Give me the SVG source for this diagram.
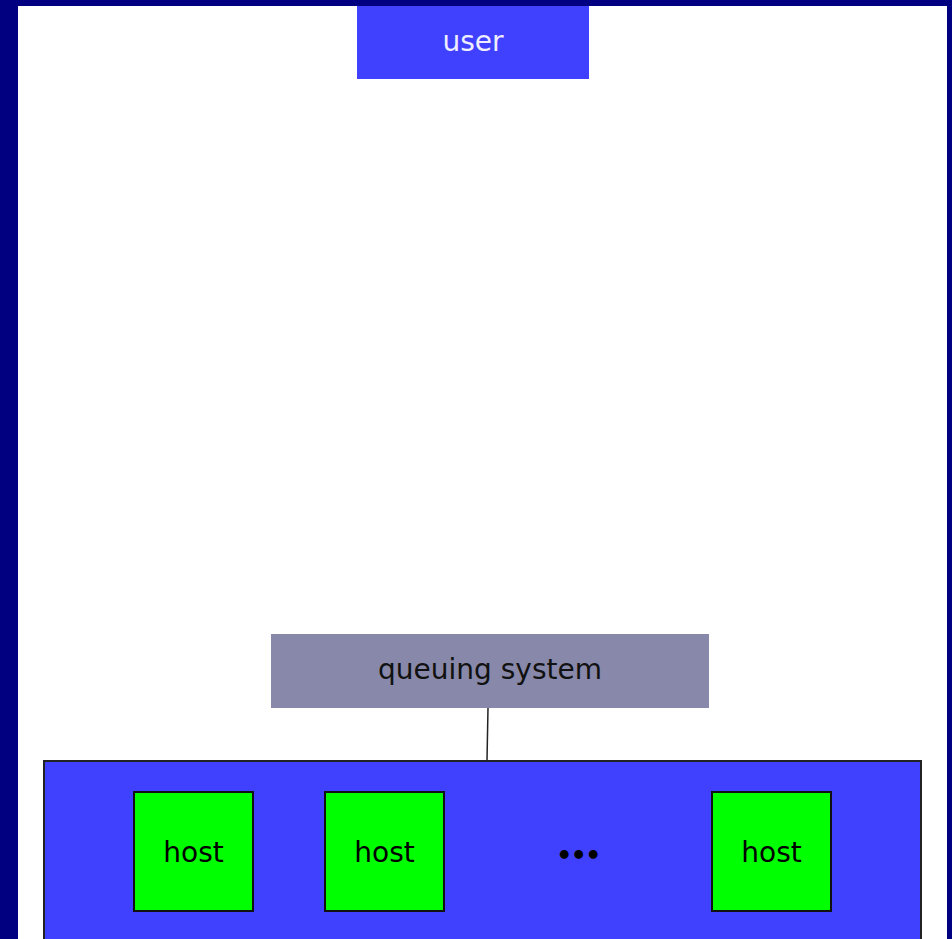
<svg xmlns="http://www.w3.org/2000/svg" width="952" height="939" viewBox="0 0 952 939">
<style>
text{font-family:"DejaVu Sans","Liberation Sans",sans-serif;text-anchor:middle;dominant-baseline:central}
.host rect{fill:#00ff00;stroke:#111;stroke-width:2}
.host text{font-size:28px;fill:#000}
</style>
<rect x="0" y="0" width="952" height="939" fill="#000080"/>
<rect x="18" y="6" width="929" height="933" fill="#ffffff"/>
<g id="connectors">
<line x1="488" y1="708" x2="487" y2="760" stroke="#222" stroke-width="1.5"/>
</g>
<g id="user">
<rect x="357" y="6" width="232" height="73" fill="#4040ff"/>
<text x="473" y="41" font-size="28" fill="#eeeeff">user</text>
</g>
<g id="queuing-system">
<rect x="271" y="634" width="438" height="74" fill="#8888aa"/>
<text x="490" y="669" font-size="28" fill="#111">queuing system</text>
</g>
<g id="cluster">
<rect x="44" y="761" width="877" height="200" fill="#4040ff" stroke="#222" stroke-width="2"/>
</g>
<g id="host1" class="host">
<rect x="134" y="792" width="119" height="119"/>
<text x="193.5" y="852">host</text>
</g>
<g id="host2" class="host">
<rect x="325" y="792" width="119" height="119"/>
<text x="384.5" y="852">host</text>
</g>
<g id="ellipsis">
<text x="578" y="855" font-size="25" font-weight="bold" letter-spacing="-1.5" fill="#000">•••</text>
</g>
<g id="host3" class="host">
<rect x="712" y="792" width="119" height="119"/>
<text x="771.5" y="852">host</text>
</g>
</svg>
